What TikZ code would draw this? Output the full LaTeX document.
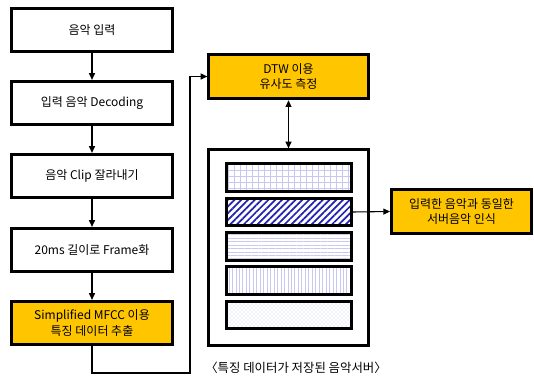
\documentclass[tikz,border=0pt]{standalone}
\usepackage{fontspec}
\setmainfont{Noto Sans CJK KR}
\usetikzlibrary{arrows.meta,patterns,patterns.meta}
\definecolor{gold}{RGB}{255,198,0}
\definecolor{lav}{RGB}{200,200,240}
\definecolor{dblue}{RGB}{35,35,175}
\begin{document}
\begin{tikzpicture}[x=0.75pt,y=-0.75pt,
  box/.style={draw,line width=2.2pt,minimum width=120.5pt,minimum height=32.5pt,align=center,font=\fontsize{9}{11.5}\selectfont,inner sep=0pt},
  ybox/.style={box,fill=gold},
  strip/.style={draw,line width=2.2pt,minimum width=94pt,minimum height=20.5pt,inner sep=0pt},
  conn/.style={line width=0.8pt,-{Triangle[length=5pt,width=4.5pt]}},
  dconn/.style={line width=0.8pt,{Triangle[length=5pt,width=4.5pt]}-{Triangle[length=5pt,width=4.5pt]}}
]
\useasboundingbox (0,0) rectangle (534,380);
\node[box] (b1) at (92,30) {음악 입력};
\node[box] (b2) at (92,103) {입력 음악 Decoding};
\node[box] (b3) at (92,176) {음악 Clip 잘라내기};
\node[box] (b4) at (92,250) {20ms 길이로 Frame화};
\node[ybox] (b5) at (92,323) {Simplified MFCC 이용\\특징 데이터 추출};
\draw[conn] (b1) -- (b2);
\draw[conn] (b2) -- (b3);
\draw[conn] (b3) -- (b4);
\draw[conn] (b4) -- (b5);
\node[ybox,minimum width=119.5pt,minimum height=33.5pt] (dtw) at (288.5,76.5) {DTW 이용\\유사도 측정};
\node[draw,line width=2.2pt,minimum width=119.5pt,minimum height=146.5pt,inner sep=0pt] (srv) at (288.5,247.5) {};
\node[strip,pattern={Hatch[angle=0,distance=4.5pt,line width=0.3pt]},pattern color=lav] (s1) at (289,177.5) {};
\node[strip,pattern={Lines[angle=45,distance=3.6pt,line width=1.3pt]},pattern color=dblue] (s2) at (289,212) {};
\node[strip,pattern={Lines[angle=0,distance=2.6pt,line width=0.3pt]},pattern color=lav] (s3) at (289,246.5) {};
\node[strip,pattern={Lines[angle=90,distance=2.6pt,line width=0.3pt]},pattern color=lav] (s4) at (289,280.5) {};
\node[strip,pattern=crosshatch dots,pattern color=lav] (s5) at (289,315) {};
\node[ybox,minimum width=105pt,minimum height=33.5pt] (res) at (461.5,211.5) {입력한 음악과 동일한\\서버음악 인식};
\coordinate (c1) at (92,373);
\coordinate (c2) at (190,373);
\coordinate (c3) at (190,76.5);
\draw[conn] (b5.south) -- (c1) -- (c2) -- (c3) -- (dtw.west);
\draw[dconn] (dtw.south) -- (srv.north);
\draw[conn] (s2.east) -- (res.west);
\node[font=\fontsize{9.3}{11}\selectfont] (cap) at (296,368) {〈특징 데이터가 저장된 음악서버〉};
\end{tikzpicture}
\end{document}
